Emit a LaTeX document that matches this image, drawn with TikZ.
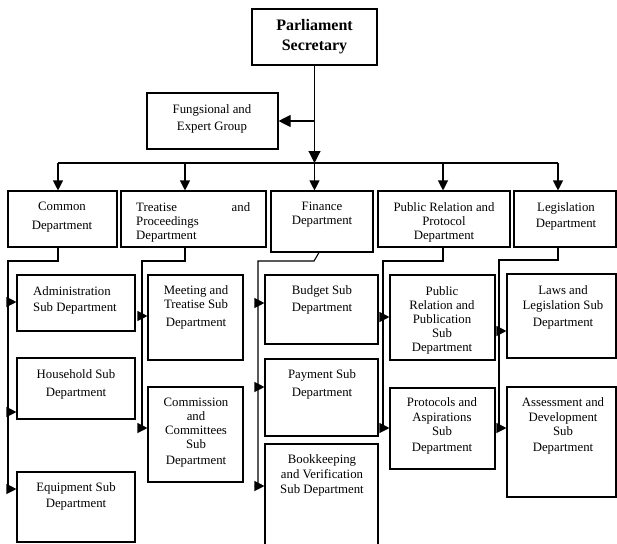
\documentclass[tikz,border=0pt]{standalone}
\usepackage{fontspec}
\setmainfont{Liberation Serif}
\usetikzlibrary{arrows.meta,fit,calc}
\begin{document}
\begin{tikzpicture}[x=1pt,y=-1pt,
  box/.style={draw, line width=1.1pt, inner sep=0pt},
  txt/.style={font=\fontsize{12.8}{14}\selectfont, align=center, inner sep=0pt, anchor=north},
  txtl/.style={font=\fontsize{12.8}{14}\selectfont, align=left, inner sep=0pt, anchor=north west},
  ttl/.style={font=\fontsize{16}{20}\selectfont\bfseries, align=center},
  ln/.style={line width=1.1pt},
  arr/.style={ln, -{Triangle[length=10pt,width=10pt]}},
  arrb/.style={ln, -{Triangle[length=12pt,width=12pt]}}]
\useasboundingbox (0,0) rectangle (617,543);
\clip (0,0) rectangle (617,543);
% boxes
\node[box, fit={(252,9) (377,65)}, ttl] (par) {};
\node[ttl, inner sep=0pt] at (par.center) {Parliament\\Secretary};
\node[box, fit={(147,93) (278,149)}] (fung) {};
\node[box, fit={(8,191) (117,247)}] (com) {};
\node[box, fit={(121,191) (266,247)}] (tre) {};
\node[box, fit={(271,191) (373,252)}] (fin) {};
\node[box, fit={(378,191) (510,247)}] (pr) {};
\node[box, fit={(514,191) (616,247)}] (leg) {};
\node[box, fit={(17,275) (135,331)}] (adm) {};
\node[box, fit={(17,358) (135,419)}] (hou) {};
\node[box, fit={(17,472) (135,542)}] (eqp) {};
\node[box, fit={(148,275) (243,360)}] (mee) {};
\node[box, fit={(148,387) (243,482)}] (cmc) {};
\node[box, fit={(265,275) (378,344)}] (bud) {};
\node[box, fit={(265,359) (378,436)}] (pay) {};
\node[box, fit={(265,444) (378,560)}] (bkv) {};
\node[box, fit={(390,275) (495,360)}] (prp) {};
\node[box, fit={(390,388) (495,469)}] (pro) {};
\node[box, fit={(507,274) (616,358)}] (law) {};
\node[box, fit={(507,387) (616,497)}] (ass) {};
% texts
\node[txt] at (212,104) {Fungsional and\\[3pt]Expert Group};
\node[txt] at (62,202) {Common\\[5pt]Department};
\node[txtl, text width=114pt] at (136,202) {Treatise\hfill and\\Proceedings\\Department};
\node[txt] at (322,202) {Finance\\Department};
\node[txt] at (444,202) {Public Relation and\\Protocol\\Department};
\node[txt] at (566,202) {Legislation\\[2pt]Department};
\node[txtl] at (33,286) {Administration\\[2pt]Sub Department};
\node[txt] at (76,369) {Household Sub\\[4pt]Department};
\node[txt] at (76,482) {Equipment Sub\\[2pt]Department};
\node[txt] at (196,285) {Meeting and\\Treatise Sub\\[4pt]Department};
\node[txt] at (196,398) {Commission\\and\\Committees\\Sub\\[2pt]Department};
\node[txt] at (322,285) {Budget Sub\\[3pt]Department};
\node[txt] at (322,369) {Payment Sub\\[4pt]Department};
\node[txt] at (322,454) {Bookkeeping\\[1pt]and Verification\\[1pt]Sub Department};
\node[txt] at (442,286) {Public\\Relation and\\Publication\\Sub\\Department};
\node[txt] at (442,397) {Protocols and\\[1pt]Aspirations\\Sub\\[2pt]Department};
\node[txt] at (563,285) {Laws and\\[1pt]Legislation Sub\\[3pt]Department};
\node[txt] at (563,397) {Assessment and\\[1pt]Development\\Sub\\[2pt]Department};
% bus
\coordinate (b1) at (58,163);
\coordinate (b2) at (185,163);
\coordinate (b3) at (par.south |- 0,163);
\coordinate (b4) at (443,163);
\coordinate (b5) at (558,163);
\draw[arrb] (par.south) -- (b3);
\draw[arrb] (par.south |- fung.east) -- (fung.east);
\draw[ln] (b1) -- (b5);
\draw[arr] (b1) -- (b1 |- com.north);
\draw[arr] (b2) -- (b2 |- tre.north);
\draw[arr] (b3) -- (b3 |- fin.north);
\draw[arr] (b4) -- (b4 |- pr.north);
\draw[arr] (b5) -- (b5 |- leg.north);
% column 1
\coordinate (c1) at (8,261);
\coordinate (a11) at (8,302);
\coordinate (a12) at (8,412);
\coordinate (a13) at (8,489);
\draw[arr] (b1 |- com.south) |- (c1) -- (a13) -- (a13 -| eqp.west);
\draw[arr] (a11) -- (a11 -| adm.west);
\draw[arr] (a12) -- (a12 -| hou.west);
% column 2
\coordinate (c2) at (142,261);
\coordinate (a21) at (142,316);
\coordinate (a22) at (142,428);
\draw[arr] (b2 |- tre.south) |- (c2) -- (a22) -- (a22 -| cmc.west);
\draw[arr] (a21) -- (a21 -| mee.west);
% column 3
\coordinate (c3) at (314,261);
\coordinate (c3l) at (258,261);
\coordinate (a31) at (258,303);
\coordinate (a32) at (258,387);
\coordinate (a33) at (258,486);
\draw[arr] ($(fin.south)+(-3,0)$) -- (c3) -- (c3l) -- (a33) -- (a33 -| bkv.west);
\draw[arr] (a31) -- (a31 -| bud.west);
\draw[arr] (a32) -- (a32 -| pay.west);
% column 4
\coordinate (c4) at (383,261);
\coordinate (a41) at (383,317);
\coordinate (a42) at (383,428);
\draw[arr] (b4 |- pr.south) |- (c4) -- (a42) -- (a42 -| pro.west);
\draw[arr] (a41) -- (a41 -| prp.west);
% column 5
\coordinate (c5) at (499,260);
\coordinate (a51) at (499,331);
\coordinate (a52) at (499,428);
\draw[arr] (b5 |- leg.south) |- (c5) -- (a52) -- (a52 -| ass.west);
\draw[arr] (a51) -- (a51 -| law.west);
\end{tikzpicture}
\end{document}
